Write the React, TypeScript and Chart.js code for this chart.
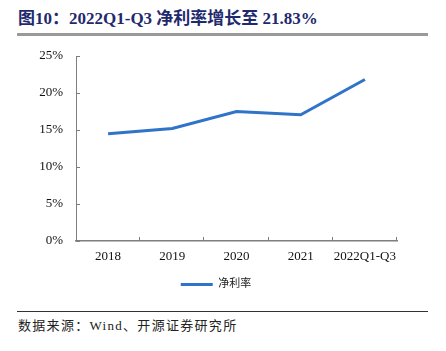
import React, { useEffect, useRef } from "react";
import { Chart, registerables } from "chart.js";

Chart.register(...registerables);

const categories = ["2018", "2019", "2020", "2021", "2022Q1-Q3"];
const netMargin = [14.5, 15.2, 17.5, 17.05, 21.83];
const yTicks = [0, 5, 10, 15, 20, 25];
const seriesName = "净利率";
const titleText = "图10：2022Q1-Q3 净利率增长至 21.83%";
const sourceText = "数据来源：Wind、开源证券研究所";

const serif = "'Liberation Serif', 'Noto Sans CJK SC', serif";
const lineColor = "#2f74c8";

const innerTicks = {
  id: "innerTicks",
  afterDraw(chart: any) {
    const { ctx, chartArea, scales } = chart;
    const y = scales.y;
    ctx.save();
    ctx.strokeStyle = "#7f7f7f";
    ctx.lineWidth = 1;
    yTicks.forEach((v) => {
      const py = Math.round(y.getPixelForValue(v)) + 0.5;
      ctx.beginPath();
      ctx.moveTo(chartArea.left, py);
      ctx.lineTo(chartArea.left + 4, py);
      ctx.stroke();
    });
    const n = categories.length;
    const w = (chartArea.right - chartArea.left) / n;
    for (let i = 1; i <= n; i++) {
      const px = Math.round(chartArea.left + i * w) - 0.5;
      ctx.beginPath();
      ctx.moveTo(px, chartArea.bottom);
      ctx.lineTo(px, chartArea.bottom - 4);
      ctx.stroke();
    }
    ctx.restore();
  },
};

export default function App() {
  const ref = useRef<HTMLCanvasElement>(null);
  useEffect(() => {
    if (!ref.current) return;
    const chart = new Chart(ref.current, {
      type: "line",
      data: {
        labels: categories,
        datasets: [
          {
            label: seriesName,
            data: netMargin,
            borderColor: lineColor,
            backgroundColor: lineColor,
            borderWidth: 3,
            pointRadius: 0,
            tension: 0,
          },
        ],
      },
      options: {
        animation: false,
        responsive: false,
        maintainAspectRatio: false,
        layout: { padding: { left: 35, right: 49, top: 16, bottom: 5 } },
        plugins: {
          tooltip: { enabled: false },
          legend: {
            position: "bottom",
            labels: {
              boxWidth: 32,
              boxHeight: 3,
              padding: 8,
              color: "#222",
              font: { family: serif, size: 11 },
              generateLabels(c: any) {
                const items = Chart.defaults.plugins.legend.labels.generateLabels(c);
                return items.map((it: any) => ({ ...it, lineWidth: 0, fillStyle: lineColor }));
              },
            },
          },
        },
        scales: {
          x: {
            offset: true,
            grid: { display: false, drawTicks: false },
            border: { display: true, color: "#7f7f7f", width: 1.5 },
            ticks: {
              color: "#111",
              padding: 8,
              font: { family: serif, size: 13 },
              maxRotation: 0,
              autoSkip: false,
            },
            afterFit(s: any) {
              s.height = 30;
              s.paddingLeft = 0;
              s.paddingRight = 0;
            },
          },
          y: {
            min: 0,
            max: 25,
            grid: { display: false, drawTicks: false },
            border: { display: true, color: "#7f7f7f", width: 1 },
            afterBuildTicks(s: any) {
              s.ticks = yTicks.map((v) => ({ value: v }));
            },
            ticks: {
              color: "#111",
              padding: 13,
              font: { family: serif, size: 13 },
              callback: (v: any) => v + "%",
            },
            afterFit(s: any) {
              s.width = 41;
              s.paddingTop = 0;
              s.paddingBottom = 0;
            },
          },
        },
      },
      plugins: [innerTicks],
    });
    return () => chart.destroy();
  }, []);

  return (
    <div
      style={{
        position: "fixed",
        left: 0,
        top: 0,
        width: 446,
        height: 351,
        background: "#fff",
        overflow: "hidden",
      }}
    >
      <div
        style={{
          position: "absolute",
          left: 18,
          top: 10,
          fontFamily: serif,
          fontWeight: "bold",
          fontSize: 17,
          lineHeight: "18px",
          color: "#1f2a6e",
          whiteSpace: "nowrap",
        }}
      >
        {titleText}
      </div>
      <div
        style={{
          position: "absolute",
          left: 17,
          top: 33,
          width: 411,
          height: 3,
          background: "#9a9a9a",
        }}
      />
      <div style={{ position: "absolute", left: 0, top: 40, width: 446, height: 265 }}>
        <canvas ref={ref} width={446} height={265} style={{ width: 446, height: 265 }} />
      </div>
      <div
        style={{
          position: "absolute",
          left: 17,
          top: 311,
          width: 411,
          height: 1,
          background: "#333",
        }}
      />
      <div
        style={{
          position: "absolute",
          left: 18,
          top: 318,
          fontFamily: serif,
          fontSize: 13,
          lineHeight: "16px",
          letterSpacing: 1.3,
          color: "#222",
          whiteSpace: "nowrap",
        }}
      >
        {sourceText}
      </div>
    </div>
  );
}
